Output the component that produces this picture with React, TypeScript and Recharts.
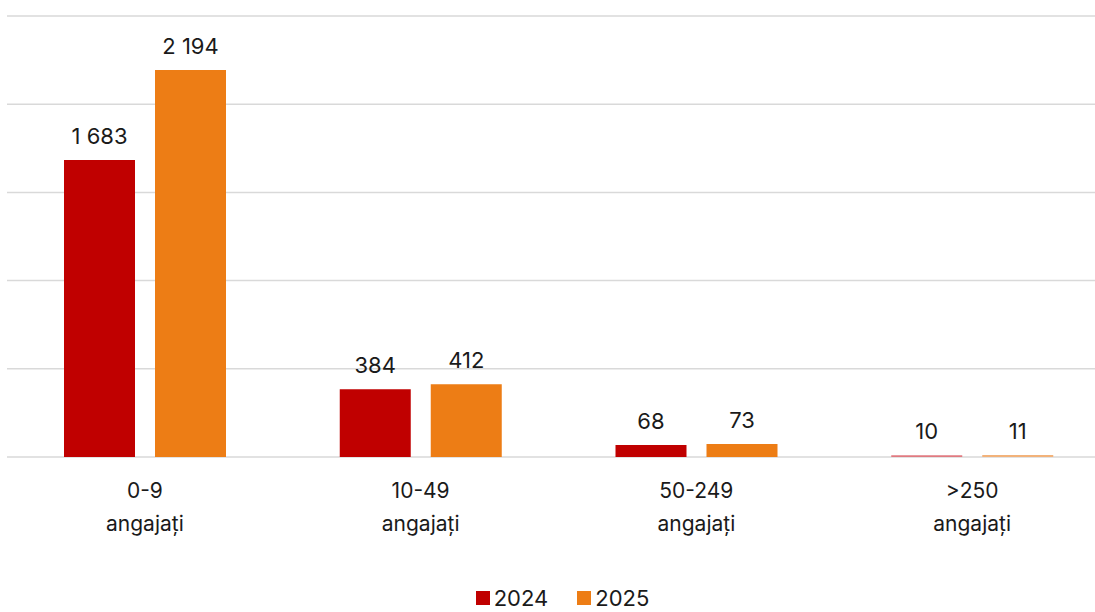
import { BarChart, Bar, XAxis, YAxis, CartesianGrid, LabelList, Legend, Cell } from "recharts"

const categories = ["0-9|angajați", "10-49|angajați", "50-249|angajați", ">250|angajați"]
const values2024 = [1683, 384, 68, 10]
const values2025 = [2194, 412, 73, 11]
const yTicks = [0, 500, 1000, 1500, 2000, 2500]

const data = categories.map((c, i) => ({
  name: c,
  y2024: values2024[i],
  y2025: values2025[i],
}))

const RED = "#C00000"
const ORANGE = "#ED7D15"
const FONT = "Inter, 'Noto Sans', sans-serif"

const fmt = (v: number) => String(v).replace(/\B(?=(\d{3})+(?!\d))/g, " ")

function CatTick({ x, y, payload }: any) {
  const [a, b] = String(payload.value).split("|")
  return (
    <text x={x} y={y} textAnchor="middle" fill="#1a1a1a" fontSize={21} fontFamily={FONT}>
      <tspan x={x} dy={33}>{a}</tspan>
      <tspan x={x} dy={33}>{b}</tspan>
    </text>
  )
}

function LegendBox() {
  const items = [
    { label: "2024", color: RED },
    { label: "2025", color: ORANGE },
  ]
  return (
    <div style={{ display: "flex", justifyContent: "center", gap: 29, paddingTop: 18, paddingLeft: 8, fontFamily: FONT }}>
      {items.map((it) => (
        <div key={it.label} style={{ display: "flex", alignItems: "center", gap: 4 }}>
          <span style={{ width: 14, height: 14, background: it.color, display: "inline-block" }} />
          <span style={{ fontSize: 22, color: "#1a1a1a", lineHeight: "26px" }}>{it.label}</span>
        </div>
      ))}
    </div>
  )
}

export default function App() {
  return (
    <div style={{ position: "fixed", left: 0, top: 0, width: 1095, height: 612, overflow: "hidden", background: "#fff" }}>
      <div style={{ marginLeft: 7 }}>
        <BarChart
          width={1103}
          height={612}
          data={data}
          margin={{ top: 16, right: 0, left: 0, bottom: 0 }}
          barCategoryGap={57}
          barGap={20}
        >
          <CartesianGrid vertical={false} stroke="#d9d9d9" strokeWidth={1.5} />
          <XAxis
            dataKey="name"
            height={110}
            tickLine={false}
            axisLine={false}
            tick={<CatTick />}
            interval={0}
          />
          <YAxis hide domain={[0, 2500]} ticks={yTicks} />
          <Legend verticalAlign="bottom" height={45} content={<LegendBox />} />
          <Bar dataKey="y2024" fill={RED} barSize={71} isAnimationActive={false}>
            {data.map((_, i) => (
              <Cell key={i} fill={i === 3 ? "#E07A80" : RED} />
            ))}
            <LabelList
              dataKey="y2024"
              position="top"
              offset={16}
              formatter={(v: any) => fmt(Number(v))}
              style={{ fill: "#1a1a1a", fontSize: 22, fontFamily: FONT }}
            />
          </Bar>
          <Bar dataKey="y2025" fill={ORANGE} barSize={71} isAnimationActive={false}>
            {data.map((_, i) => (
              <Cell key={i} fill={i === 3 ? "#F2B27A" : ORANGE} />
            ))}
            <LabelList
              dataKey="y2025"
              position="top"
              offset={16}
              formatter={(v: any) => fmt(Number(v))}
              style={{ fill: "#1a1a1a", fontSize: 22, fontFamily: FONT }}
            />
          </Bar>
        </BarChart>
      </div>
    </div>
  )
}
